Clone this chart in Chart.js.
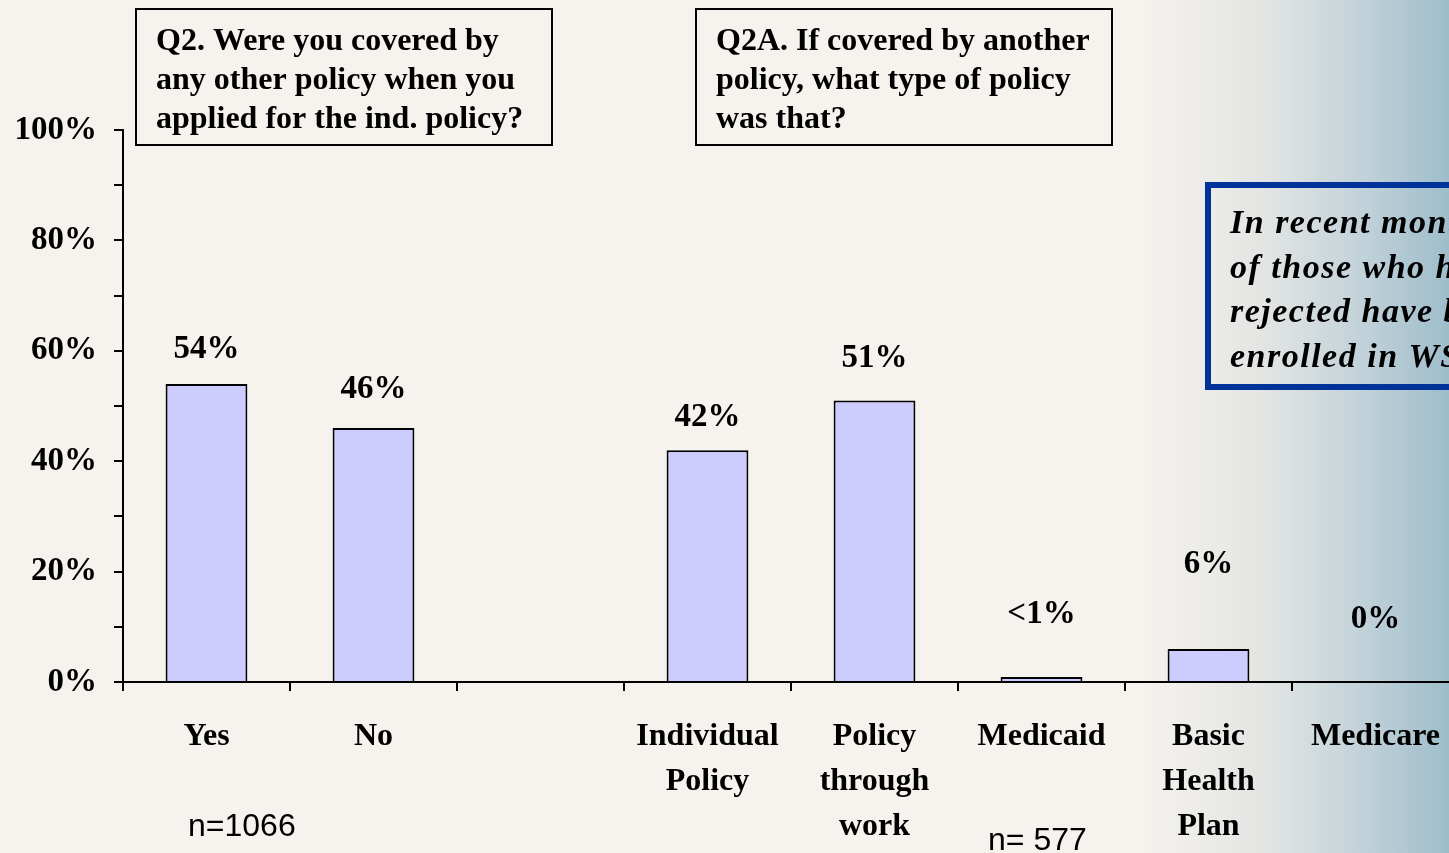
<!DOCTYPE html>
<html>
<head>
<meta charset="utf-8">
<script src="https://cdn.jsdelivr.net/npm/chart.js@4.4.1/dist/chart.umd.min.js"></script>
<style>
  html, body { margin: 0; padding: 0; overflow: hidden; background: #f6f2ee; }
  #wrap { width: 1500px; height: 853px; }
</style>
</head>
<body>
<div id="wrap"><canvas id="coverage" width="1500" height="853"></canvas></div>
<script>
// Survey answers: Q2 (Yes / No) and Q2A (type of other policy)
const categories = [
  'Yes', 'No', '',
  ['Individual', 'Policy'],
  ['Policy', 'through', 'work'],
  'Medicaid',
  ['Basic', 'Health', 'Plan'],
  'Medicare'
];
const percents = [54, 46, null, 42, 51, 0.9, 6, 0];
const yTicks = [0, 20, 40, 60, 80, 100];
const sampleNotes = ['n=1066', 'n= 577'];

// how far above each bar its value label sits
const labelLift = [34, 39, 0, 33, 42, 63, 84, 63];

const serif = '"Liberation Serif", "Times New Roman", serif';

function pctText(v) {
  if (v > 0 && v < 1) return '<1%';
  return v + '%';
}

// background: warm beige fading to slate blue on the right
const backdrop = {
  id: 'backdrop',
  beforeDraw(chart) {
    const ctx = chart.ctx;
    const g = ctx.createLinearGradient(1140, 0, 1449, 0);
    g.addColorStop(0, '#f6f2ee');
    g.addColorStop(0.4, '#e3e5e3');
    g.addColorStop(0.7, '#c4d3da');
    g.addColorStop(1, '#9ebdcb');
    ctx.save();
    ctx.fillStyle = g;
    ctx.fillRect(0, 0, chart.width, chart.height);
    ctx.restore();
  }
};

// value labels above the bars
const valueLabels = {
  id: 'valueLabels',
  afterDatasetsDraw(chart) {
    const ctx = chart.ctx;
    const meta = chart.getDatasetMeta(0);
    ctx.save();
    ctx.font = 'bold 33px ' + serif;
    ctx.fillStyle = '#000';
    ctx.textAlign = 'center';
    ctx.textBaseline = 'middle';
    meta.data.forEach((bar, i) => {
      const v = percents[i];
      if (v === null) return;
      ctx.fillText(pctText(v), bar.x, bar.y - labelLift[i]);
    });
    ctx.restore();
  }
};

// question boxes, callout and sample sizes
const notes = {
  id: 'notes',
  afterDraw(chart) {
    const ctx = chart.ctx;
    ctx.save();

    function box(x, y, w, h, color, lw) {
      ctx.strokeStyle = color;
      ctx.lineWidth = lw;
      ctx.strokeRect(x, y, w, h);
    }

    ctx.fillStyle = '#f6f2ee';
    ctx.fillRect(136, 9, 416, 136);
    ctx.fillRect(696, 9, 416, 136);
    box(136, 9, 416, 136, '#000', 2);
    box(696, 9, 416, 136, '#000', 2);

    ctx.fillStyle = '#000';
    ctx.textAlign = 'left';
    ctx.textBaseline = 'alphabetic';
    ctx.font = 'bold 32px ' + serif;
    ['Q2. Were you covered by', 'any other policy when you', 'applied for the ind. policy?']
      .forEach((t, i) => ctx.fillText(t, 156, 50 + i * 39));
    ['Q2A. If covered by another', 'policy, what type of policy', 'was that?']
      .forEach((t, i) => ctx.fillText(t, 716, 50 + i * 39));

    box(1208, 185, 320, 202, '#003399', 6);
    ctx.font = 'italic bold 34px ' + serif;
    ctx.letterSpacing = '1.5px';
    ['In recent months, most', 'of those who have been', 'rejected have been', 'enrolled in WSHIP.']
      .forEach((t, i) => ctx.fillText(t, 1230, 233 + i * 44.5));
    ctx.letterSpacing = '0px';

    ctx.font = '32px "Liberation Sans", Arial, sans-serif';
    ctx.fillText(sampleNotes[0], 188, 836);
    ctx.fillText(sampleNotes[1], 988, 850);
    ctx.restore();
  }
};

new Chart(document.getElementById('coverage'), {
  type: 'bar',
  data: {
    labels: categories,
    datasets: [{
      data: percents,
      backgroundColor: '#ccccff',
      borderColor: '#000',
      borderWidth: 2,
      borderSkipped: 'bottom',
      barPercentage: 0.49,
      categoryPercentage: 1
    }]
  },
  options: {
    responsive: false,
    animation: false,
    layout: { padding: { top: 130, right: 41, left: 0, bottom: 0 } },
    plugins: { legend: { display: false }, tooltip: { enabled: false } },
    scales: {
      x: {
        afterFit(scale) { scale.height = 171; },
        grid: { offset: true, drawOnChartArea: false, tickLength: 9, color: '#000', lineWidth: 2 },
        border: { color: '#000', width: 2 },
        ticks: {
          maxRotation: 0,
          autoSkip: false,
          padding: 23,
          color: '#000',
          font: { family: serif, size: 32, weight: 'bold', lineHeight: 1.41 }
        }
      },
      y: {
        min: 0,
        max: 100,
        afterFit(scale) { scale.width = 123; },
        grid: { drawOnChartArea: false, tickLength: 9, color: '#000', lineWidth: 2 },
        border: { color: '#000', width: 2 },
        ticks: {
          stepSize: 10,
          padding: 17,
          color: '#000',
          font: { family: serif, size: 33, weight: 'bold' },
          callback: v => yTicks.includes(v) ? v + '%' : ''
        }
      }
    }
  },
  plugins: [backdrop, valueLabels, notes]
});
</script>
</body>
</html>
